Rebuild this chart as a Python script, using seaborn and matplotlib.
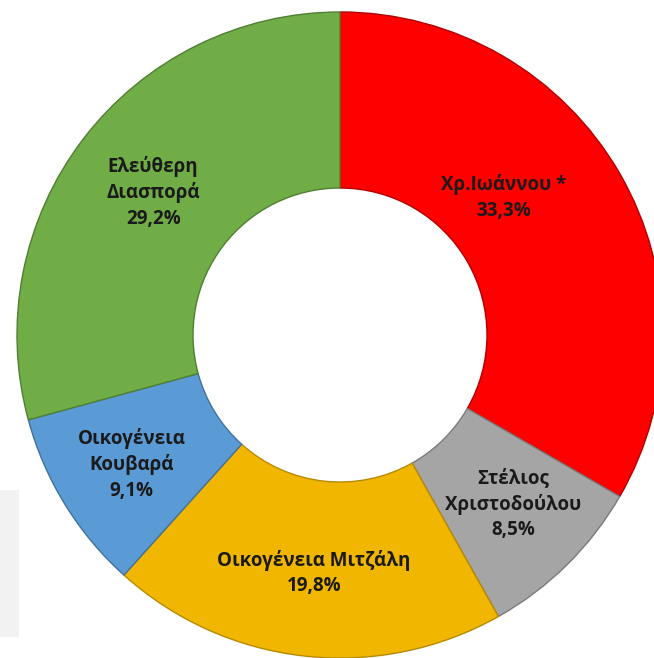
import matplotlib
matplotlib.use("Agg")
import matplotlib.pyplot as plt
import seaborn as sns
from matplotlib.patches import Rectangle

names = ["Χρ.Ιωάννου *", "Στέλιος\nΧριστοδούλου", "Οικογένεια Μιτζάλη",
         "Οικογένεια\nΚουβαρά", "Ελεύθερη\nΔιασπορά"]
values = [33.3, 8.5, 19.8, 9.1, 29.2]
pct_labels = ["33,3%", "8,5%", "19,8%", "9,1%", "29,2%"]
colors = ["#FF0000", "#A5A5A5", "#F0B600", "#5B9BD5", "#70AD47"]
edge_colors = ["#B00000", "#7A7A7A", "#B88A00", "#41719C", "#507E32"]
# small nudges of the data labels (pixels), as in the original layout
label_nudge = [(-40, 20), (8, -2), (0, -4), (-8, -6), (0, 0)]

sns.set_theme(style="white")
plt.rcParams['font.family'] = ['Open Sans', 'DejaVu Sans']

W, H = 654, 658
fig = plt.figure(figsize=(W / 100, H / 100), dpi=100)
fig.patch.set_facecolor("white")
fig.patches.append(Rectangle((0, 1 - 637 / H), 19 / W, 147 / H,
                             transform=fig.transFigure, facecolor="#F2F2F2",
                             edgecolor="none", zorder=0))
ax = fig.add_axes([0, 0, 1, 1])
ax.set_facecolor("none")

cx, cy, R, r_in = 340, H - 335, 323, 147
labels = [f"{n}\n{p}" for n, p in zip(names, pct_labels)]
wedges, texts = ax.pie(values, colors=colors, startangle=90, counterclock=False,
                       radius=R, center=(cx, cy), labels=labels,
                       labeldistance=0.728,
                       wedgeprops=dict(width=R - r_in, linewidth=1.0),
                       textprops=dict(fontsize=13.5, fontweight='bold',
                                      color='#1A1A1A', linespacing=1.35))
for w, ec in zip(wedges, edge_colors):
    w.set_edgecolor(ec)
for t, (dx, dy) in zip(texts, label_nudge):
    t.set_ha('center')
    t.set_va('center')
    x, y = t.get_position()
    t.set_position((x + dx, y + dy))
ax.set_xlim(0, W)
ax.set_ylim(0, H)
ax.set_aspect('equal')
ax.axis('off')

fig.savefig("out.png", dpi=100)
